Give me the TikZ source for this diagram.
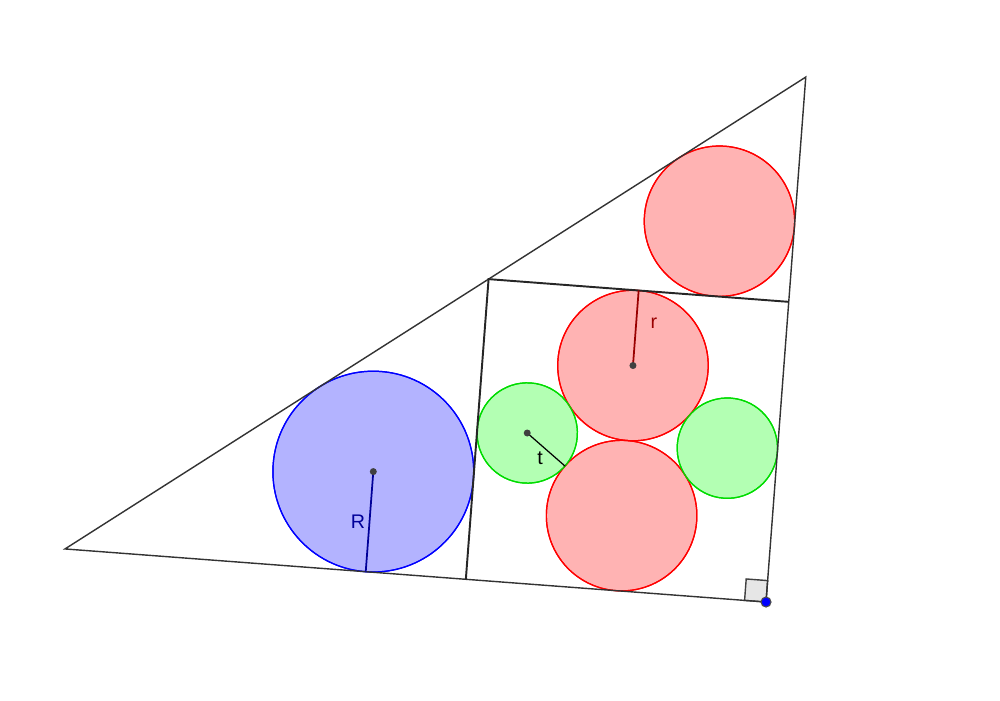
\documentclass[tikz,border=0pt]{standalone}
\usepackage{fontspec}
\setmainfont{Liberation Sans}
\usetikzlibrary{calc}
\begin{document}
\begin{tikzpicture}
\definecolor{bfill}{RGB}{179,179,255}
\definecolor{rfill}{RGB}{255,179,179}
\definecolor{gfill}{RGB}{179,255,179}
\definecolor{gline}{RGB}{0,220,0}
\definecolor{dblue}{RGB}{0,0,153}
\definecolor{dred}{RGB}{153,0,0}
\definecolor{dot}{RGB}{64,64,64}
\definecolor{marker}{RGB}{230,230,230}
\tikzset{
  edge/.style={line width=0.4pt, draw=black!80},
  sqedge/.style={line width=0.55pt, draw=black!85},
  bcirc/.style={fill=bfill, draw=blue, line width=0.35pt},
  rcirc/.style={fill=rfill, draw=red, line width=0.35pt},
  gcirc/.style={fill=gfill, draw=gline, line width=0.35pt},
  ctr/.style={circle, fill=dot, inner sep=0pt, minimum size=0.07cm},
  lbl/.style={font=\fontsize{5.6}{6.5}\selectfont, inner sep=0pt}
}
\useasboundingbox (0,0) rectangle (10,7);
\pgfmathsetmacro{\LA}{7.031}
\pgfmathsetmacro{\LB}{5.265}
\pgfmathsetmacro{\Sq}{\LA*\LB/(\LA+\LB)}
\pgfmathsetmacro{\Rb}{(\LA-sqrt((\LA-\Sq)^2+\Sq^2))/2}
\pgfmathsetmacro{\Rt}{(\LB-sqrt((\LB-\Sq)^2+\Sq^2))/2}
\pgfmathsetmacro{\Rr}{\Sq/4}
\pgfmathsetmacro{\Tg}{\Sq/6}
\begin{scope}[shift={(7.66,0.98)}, rotate=85.67]
  % vertices
  \coordinate (C) at (0,0);
  \coordinate (B) at (\LB,0);
  \coordinate (A) at (0,\LA);
  % square
  \coordinate (S1) at (\Sq,0);
  \coordinate (S2) at (\Sq,\Sq);
  \coordinate (S3) at (0,\Sq);
  % centres
  \coordinate (OB) at (\Rb,\Sq+\Rb);
  \coordinate (OT) at (\Sq+\Rt,\Rt);
  \coordinate (OM) at (3*\Rr,\Sq/2);
  \coordinate (OL) at (\Rr,\Sq/2);
  \coordinate (GL) at (\Sq/2,\Sq-\Tg);
  \coordinate (GR) at (\Sq/2,\Tg);
  % tangent points
  \coordinate (TR) at (0,\Sq+\Rb);
  \coordinate (Tr) at (\Sq,\Sq/2);
  \coordinate (Tt) at ($(GL)!0.4!(OL)$);
  % circles
  \fill[bcirc] (OB) circle (\Rb);
  \fill[rcirc] (OT) circle (\Rt);
  \fill[rcirc] (OM) circle (\Rr);
  \fill[rcirc] (OL) circle (\Rr);
  \fill[gcirc] (GL) circle (\Tg);
  \fill[gcirc] (GR) circle (\Tg);
  \draw[bcirc, fill=none] (OB) circle (\Rb);
  \draw[rcirc, fill=none] (OT) circle (\Rt);
  \draw[rcirc, fill=none] (OM) circle (\Rr);
  \draw[rcirc, fill=none] (OL) circle (\Rr);
  \draw[gcirc, fill=none] (GL) circle (\Tg);
  \draw[gcirc, fill=none] (GR) circle (\Tg);
  % right angle marker
  \draw[fill=marker, draw=black!75, line width=0.4pt] (C) rectangle (0.215,0.215);
  % triangle and square
  \draw[edge] (A) -- (B) -- (C) -- cycle;
  \draw[sqedge] (S1) -- (S2) -- (S3);
  % radii
  \draw[dblue, line width=0.5pt] (OB) -- (TR);
  \draw[dred, line width=0.5pt] (OM) -- (Tr);
  \draw[black, line width=0.35pt] (GL) -- (Tt);
  % centre dots
  \node[ctr] (dOB) at (OB) {};
  \node[ctr] (dOM) at (OM) {};
  \node[ctr] (dGL) at (GL) {};
  \node[circle, fill=blue, draw=black!70, line width=0.3pt, inner sep=0pt, minimum size=0.1cm] (pC) at (C) {};
\end{scope}
\node[lbl, text=dblue] (lR) at (3.58,1.78) {R};
\node[lbl, text=dred] (lr) at (6.54,3.77) {r};
\node[lbl, text=black] (lt) at (5.40,2.42) {t};
\end{tikzpicture}
\end{document}
